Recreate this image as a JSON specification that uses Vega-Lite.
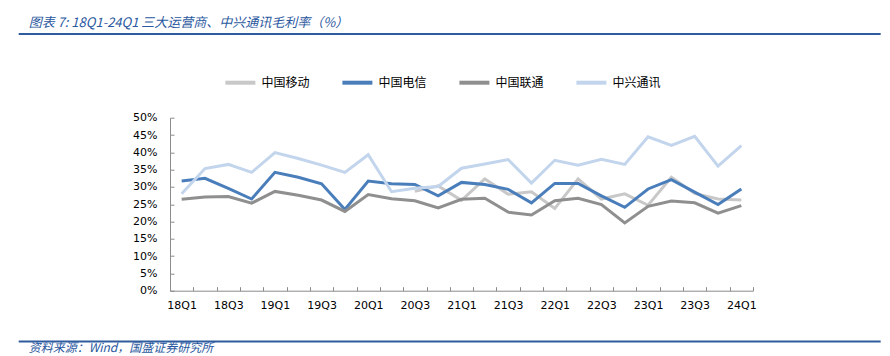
{
  "$schema": "https://vega.github.io/schema/vega-lite/v6.json",
  "autosize": {"type": "pad"},
  "padding": {"left": 17, "top": 17, "right": 0, "bottom": 0},
  "bounds": "flush",
  "spacing": 50.7,
  "background": "white",
  "config": {"view": {"stroke": null}},
  "resolve": {"scale": {"color": "independent"}, "legend": {"color": "independent"}},
  "vconcat": [
    {
      "width": 583,
      "height": 32.6,
      "data": {"values": [{"k": 1}]},
      "title": {"text": "图表 7:  18Q1-24Q1 三大运营商、中兴通讯毛利率（%）", "anchor": "start", "frame": "group", "orient": "top", "dx": -141.3, "offset": -10, "baseline": "bottom", "font": "Noto Sans CJK SC", "fontStyle": "italic", "fontWeight": "normal", "fontSize": 13, "color": "#2a58a0"},
      "mark": {"type": "rule", "color": "#2e5c9e", "strokeWidth": 2},
      "encoding": {
        "x": {"datum": -0.2595, "type": "quantitative", "scale": {"domain": [0, 1], "nice": false, "zero": false}, "axis": null},
        "x2": {"datum": 1.219},
        "y": {"datum": 1, "type": "quantitative", "scale": {"domain": [0, 1], "nice": false}, "axis": null}
      }
    },
    {
      "width": 583,
      "height": 173,
      "data": {"values": [
        {"q":"20Q3","s":"中国移动","v":28.7},{"q":"20Q4","s":"中国移动","v":30.3},{"q":"21Q1","s":"中国移动","v":26.1},{"q":"21Q2","s":"中国移动","v":32.3},{"q":"21Q3","s":"中国移动","v":27.9},{"q":"21Q4","s":"中国移动","v":28.6},{"q":"22Q1","s":"中国移动","v":23.8},{"q":"22Q2","s":"中国移动","v":32.3},{"q":"22Q3","s":"中国移动","v":26.5},{"q":"22Q4","s":"中国移动","v":28.0},{"q":"23Q1","s":"中国移动","v":24.7},{"q":"23Q2","s":"中国移动","v":32.8},{"q":"23Q3","s":"中国移动","v":28.1},{"q":"23Q4","s":"中国移动","v":26.5},{"q":"24Q1","s":"中国移动","v":26.2},
        {"q":"18Q1","s":"中国电信","v":31.7},{"q":"18Q2","s":"中国电信","v":32.5},{"q":"18Q3","s":"中国电信","v":29.6},{"q":"18Q4","s":"中国电信","v":26.5},{"q":"19Q1","s":"中国电信","v":34.2},{"q":"19Q2","s":"中国电信","v":32.8},{"q":"19Q3","s":"中国电信","v":30.9},{"q":"19Q4","s":"中国电信","v":23.5},{"q":"20Q1","s":"中国电信","v":31.7},{"q":"20Q2","s":"中国电信","v":30.9},{"q":"20Q3","s":"中国电信","v":30.7},{"q":"20Q4","s":"中国电信","v":27.4},{"q":"21Q1","s":"中国电信","v":31.3},{"q":"21Q2","s":"中国电信","v":30.7},{"q":"21Q3","s":"中国电信","v":29.3},{"q":"21Q4","s":"中国电信","v":25.4},{"q":"22Q1","s":"中国电信","v":31.0},{"q":"22Q2","s":"中国电信","v":31.0},{"q":"22Q3","s":"中国电信","v":27.4},{"q":"22Q4","s":"中国电信","v":24.1},{"q":"23Q1","s":"中国电信","v":29.4},{"q":"23Q2","s":"中国电信","v":32.1},{"q":"23Q3","s":"中国电信","v":28.5},{"q":"23Q4","s":"中国电信","v":24.9},{"q":"24Q1","s":"中国电信","v":29.4},
        {"q":"18Q1","s":"中国联通","v":26.4},{"q":"18Q2","s":"中国联通","v":27.1},{"q":"18Q3","s":"中国联通","v":27.2},{"q":"18Q4","s":"中国联通","v":25.3},{"q":"19Q1","s":"中国联通","v":28.7},{"q":"19Q2","s":"中国联通","v":27.6},{"q":"19Q3","s":"中国联通","v":26.2},{"q":"19Q4","s":"中国联通","v":22.9},{"q":"20Q1","s":"中国联通","v":27.8},{"q":"20Q2","s":"中国联通","v":26.6},{"q":"20Q3","s":"中国联通","v":26.0},{"q":"20Q4","s":"中国联通","v":23.9},{"q":"21Q1","s":"中国联通","v":26.4},{"q":"21Q2","s":"中国联通","v":26.7},{"q":"21Q3","s":"中国联通","v":22.7},{"q":"21Q4","s":"中国联通","v":21.9},{"q":"22Q1","s":"中国联通","v":26.0},{"q":"22Q2","s":"中国联通","v":26.7},{"q":"22Q3","s":"中国联通","v":24.9},{"q":"22Q4","s":"中国联通","v":19.6},{"q":"23Q1","s":"中国联通","v":24.4},{"q":"23Q2","s":"中国联通","v":25.9},{"q":"23Q3","s":"中国联通","v":25.4},{"q":"23Q4","s":"中国联通","v":22.4},{"q":"24Q1","s":"中国联通","v":24.6},
        {"q":"18Q1","s":"中兴通讯","v":28.0},{"q":"18Q2","s":"中兴通讯","v":35.3},{"q":"18Q3","s":"中兴通讯","v":36.5},{"q":"18Q4","s":"中兴通讯","v":34.2},{"q":"19Q1","s":"中兴通讯","v":39.9},{"q":"19Q2","s":"中兴通讯","v":38.2},{"q":"19Q3","s":"中兴通讯","v":36.3},{"q":"19Q4","s":"中兴通讯","v":34.2},{"q":"20Q1","s":"中兴通讯","v":39.3},{"q":"20Q2","s":"中兴通讯","v":28.6},{"q":"20Q3","s":"中兴通讯","v":29.6},{"q":"20Q4","s":"中兴通讯","v":30.1},{"q":"21Q1","s":"中兴通讯","v":35.4},{"q":"21Q2","s":"中兴通讯","v":36.6},{"q":"21Q3","s":"中兴通讯","v":37.9},{"q":"21Q4","s":"中兴通讯","v":31.1},{"q":"22Q1","s":"中兴通讯","v":37.7},{"q":"22Q2","s":"中兴通讯","v":36.3},{"q":"22Q3","s":"中兴通讯","v":38.0},{"q":"22Q4","s":"中兴通讯","v":36.5},{"q":"23Q1","s":"中兴通讯","v":44.5},{"q":"23Q2","s":"中兴通讯","v":42.0},{"q":"23Q3","s":"中兴通讯","v":44.6},{"q":"23Q4","s":"中兴通讯","v":36.0},{"q":"24Q1","s":"中兴通讯","v":41.9}
      ]},
      "mark": {"type": "line", "strokeWidth": 3},
      "encoding": {
        "x": {
          "field": "q", "type": "nominal", "bandPosition": 0.5,
          "scale": {"type": "band", "paddingInner": 0, "paddingOuter": 0, "domain": ["18Q1","18Q2","18Q3","18Q4","19Q1","19Q2","19Q3","19Q4","20Q1","20Q2","20Q3","20Q4","21Q1","21Q2","21Q3","21Q4","22Q1","22Q2","22Q3","22Q4","23Q1","23Q2","23Q3","23Q4","24Q1"]},
          "axis": {"title": null, "labelAngle": 0, "tickBand": "extent", "tickSize": -4, "tickColor": "#8c8c8c", "domainColor": "#8c8c8c", "labelPadding": 13, "labelFont": "DejaVu Sans", "labelFontSize": 11, "labelColor": "#000000", "labelOverlap": false, "grid": false,
            "labelExpr": "(substring(datum.value,2)=='Q1' || substring(datum.value,2)=='Q3') ? datum.value : ''"}
        },
        "y": {
          "field": "v", "type": "quantitative",
          "scale": {"domain": [0, 50], "nice": false},
          "axis": {"title": null, "values": [0,5,10,15,20,25,30,35,40,45,50], "labelExpr": "datum.value + '%'", "tickSize": -4, "tickColor": "#8c8c8c", "domainColor": "#8c8c8c", "labelPadding": 17, "labelFont": "DejaVu Sans", "labelFontSize": 11, "labelColor": "#000000", "grid": false}
        },
        "color": {
          "field": "s", "type": "nominal",
          "scale": {"domain": ["中国移动","中国电信","中国联通","中兴通讯"], "range": ["#c8c8c8","#4a7ebb","#8f8f8f","#c2d5ec"]},
          "legend": {"title": null, "orient": "none", "direction": "horizontal", "columns": 4, "legendX": 53.4, "legendY": -52, "padding": 0, "symbolType": "stroke", "symbolSize": 900, "symbolStrokeWidth": 4, "labelOffset": 4, "columnPadding": 24, "labelFont": "Noto Sans CJK SC", "labelFontSize": 12, "labelColor": "#000000"}
        }
      }
    },
    {
      "width": 583,
      "height": 1,
      "data": {"values": [{"k": 1}]},
      "title": {"text": "资料来源：Wind，国盛证券研究所", "anchor": "start", "frame": "group", "orient": "bottom", "dx": -141.3, "offset": 1, "baseline": "top", "font": "Noto Sans CJK SC", "fontStyle": "italic", "fontWeight": "normal", "fontSize": 12, "color": "#2a58a0"},
      "mark": {"type": "rule", "color": "#2e5c9e", "strokeWidth": 2},
      "encoding": {
        "x": {"datum": -0.2595, "type": "quantitative", "scale": {"domain": [0, 1], "nice": false, "zero": false}, "axis": null},
        "x2": {"datum": 1.219},
        "y": {"datum": 1, "type": "quantitative", "scale": {"domain": [0, 1], "nice": false}, "axis": null}
      }
    }
  ]
}
